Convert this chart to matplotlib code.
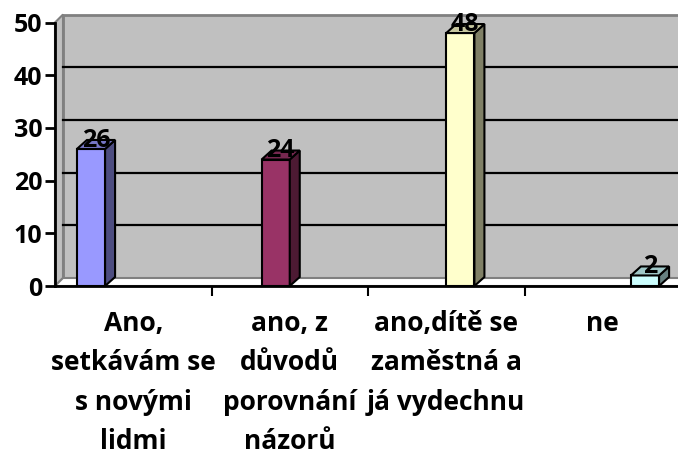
import numpy as np
import matplotlib
matplotlib.use('Agg')
import matplotlib.pyplot as plt
from matplotlib.patches import Polygon, Rectangle

# Data
kategorie = ['Ano,\nsetkávám se\ns novými\nlidmi',
             'ano, z\ndůvodů\nporovnání\nnázorů',
             'ano,dítě se\nzaměstná a\njá vydechnu',
             'ne']
hodnoty = [26, 24, 48, 2]
barvy = ['#9999FF', '#993366', '#FFFFCC', '#CCFFFF']
y_ticks = [0, 10, 20, 30, 40, 50]

plt.rcParams['font.family'] = ['Open Sans', 'DejaVu Sans']
plt.rcParams['font.weight'] = 'bold'

W, H = 678, 459
fig = plt.figure(figsize=(W / 100, H / 100), dpi=100)
x0, x1 = 55, 681
y0, y1 = 286, 22.5
ax = fig.add_axes([x0 / W, (H - y0) / H, (x1 - x0) / W, (y0 - y1) / H])
n = len(kategorie)
ax.set_xlim(0, n)
ax.set_ylim(0, y_ticks[-1])
ax.patch.set_visible(False)


def px2data(dx, dy):
    # pixel offset -> data offset
    p0 = ax.transData.transform((0, 0))
    return ax.transData.inverted().transform(p0 + np.array([dx, dy]))


def shade(c, k):
    rgb = np.array(matplotlib.colors.to_rgb(c))
    return tuple(rgb * k)


# 3D walls
wdx, wdy = px2data(8, 8)
xr = n + 0.1
ax.add_patch(Rectangle((wdx, wdy), xr, y_ticks[-1], facecolor='#C0C0C0',
                       edgecolor='#808080', lw=2, clip_on=False, zorder=0.5))
ax.add_patch(Polygon([(0, 0), (wdx, wdy), (wdx, y_ticks[-1] + wdy), (0, y_ticks[-1])],
                     facecolor='#C0C0C0', edgecolor='#808080', lw=1.5,
                     clip_on=False, zorder=0.6))
ax.add_patch(Polygon([(0, 0), (xr, 0), (xr + wdx, wdy), (wdx, wdy)],
                     facecolor='white', edgecolor='#808080', lw=1.5,
                     clip_on=False, zorder=0.6))
for v in y_ticks[1:-1]:
    ax.plot([wdx, xr], [v + wdy, v + wdy], color='black', lw=1.6,
            clip_on=False, zorder=1)

# bars
bdx, bdy = px2data(10, 9)
pozice = 0.23 + 1.18 * np.arange(n)
sirka = 0.18
for p, v, c in zip(pozice, hodnoty, barvy):
    xl = p - sirka / 2
    xrb = p + sirka / 2
    ax.add_patch(Rectangle((xl, 0), sirka, v, facecolor=c, edgecolor='black',
                           lw=1.5, zorder=2, clip_on=False))
    ax.add_patch(Polygon([(xrb, 0), (xrb + bdx, bdy), (xrb + bdx, v + bdy), (xrb, v)],
                         facecolor=shade(c, 0.5), edgecolor='black', lw=1.5,
                         zorder=2, clip_on=False))
    ax.add_patch(Polygon([(xl, v), (xrb, v), (xrb + bdx, v + bdy), (xl + bdx, v + bdy)],
                         facecolor=shade(c, 0.78), edgecolor='black', lw=1.5,
                         zorder=2, clip_on=False))
    ax.annotate(str(v), (p + bdx / 2, v + bdy / 2), xytext=(0, 3),
                textcoords='offset points', ha='center', va='center',
                fontsize=18, fontweight='bold', zorder=3)

# axes
for s in ['top', 'right']:
    ax.spines[s].set_visible(False)
for s in ['left', 'bottom']:
    ax.spines[s].set_linewidth(2)
    ax.spines[s].set_zorder(4)
ax.set_yticks(y_ticks)
ax.set_yticklabels([str(t) for t in y_ticks], fontsize=18, fontweight='bold')
ax.tick_params(axis='y', direction='out', length=7, width=2, pad=2)
ax.set_xticks(np.arange(1, n))
ax.set_xticklabels([])
ax.tick_params(axis='x', which='major', direction='out', length=7, width=1.5)
ax.set_xticks(np.arange(n) + 0.5, minor=True)
ax.set_xticklabels(kategorie, minor=True, fontsize=19, fontweight='bold',
                   linespacing=1.6)
ax.tick_params(axis='x', which='minor', length=0, pad=17)

fig.savefig('out.png', dpi=100)
